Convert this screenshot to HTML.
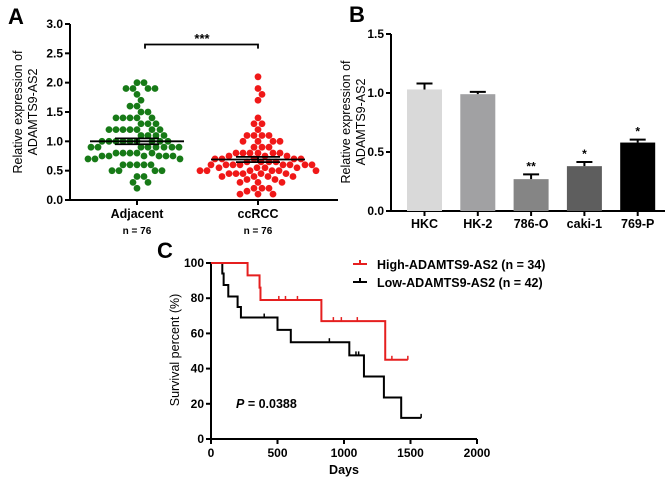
<!DOCTYPE html>
<html><head><meta charset="utf-8">
<style>
html,body{margin:0;padding:0;background:#fff;}
svg{display:block;font-family:"Liberation Sans",Arial,sans-serif;}
.tk{font-size:12px;font-weight:bold;}
</style></head>
<body>
<svg id="fig" width="668" height="479" viewBox="0 0 668 479" xmlns="http://www.w3.org/2000/svg">
<g id="pa"></g>
<g id="pb"></g>
<g id="pc"></g>
</svg>
<script>
// Panel A data
const aTicks = [0, 0.5, 1.0, 1.5, 2.0, 2.5, 3.0];
const aGroups = ["Adjacent", "ccRCC"];
const aN = ["n = 76", "n = 76"];
const adjVals = [2.0,1.9,1.8,1.7,1.6,1.5,1.4,1.3,1.2,1.1,1.0,0.9,0.8,0.75,0.7,0.6,0.5,0.4,0.3,0.2];
const adjCnt  = [2,  4,  1,  1,  2,  2,  5,  3,  7,  4,  9,  8,  5,  6,   3,  5,  4,  2,  2,  1];
const ccVals = [2.1,1.9,1.8,1.7,1.4,1.3,1.2,1.1,1.0,0.9,0.8,0.75,0.7,0.65,0.6,0.55,0.5,0.45,0.4,0.35,0.3,0.2,0.15,0.1];
const ccCnt  = [1,  1,  1,  1,  1,  2,  1,  4,  4,  3,  6,  3,   5,  4,   8,  4,   6,  5,   4,  2,   3,  3,  1,   3];
const aMeans = [1.0, 0.69];
const aSem = [0.05, 0.045];
// Panel B data
const bCats = ["HKC","HK-2","786-O","caki-1","769-P"];
const bVals = [1.03, 0.99, 0.27, 0.38, 0.58];
const bErr = [0.05, 0.02, 0.04, 0.035, 0.025];
const bSig = ["", "", "**", "*", "*"];
const bColors = ["#d9d9d9","#a1a1a3","#858585","#5e5e5e","#000000"];
const bTicks = [0, 0.5, 1.0, 1.5];
// Panel C data
const cXTicks = [0, 500, 1000, 1500, 2000];
const cYTicks = [0, 20, 40, 60, 80, 100];
const hiT = [0, 275, 365, 372, 830, 1310, 1480];
const hiS = [100, 93, 86, 79, 67, 45, 45];
const hiCensT = [510, 560, 650, 920, 980, 1100, 1360, 1480];
const hiCensS = [79, 79, 79, 67, 67, 67, 45, 45];
const loT = [0, 85, 95, 130, 200, 225, 500, 600, 1040, 1150, 1300, 1430, 1580];
const loS = [100, 94, 87.5, 81, 75, 69, 62, 55, 47.5, 35.5, 23.6, 12, 12];
const loCensT = [400, 890, 1090, 1110, 1580];
const loCensS = [69, 55, 47.5, 47.5, 12];

const NS = "http://www.w3.org/2000/svg";
function mk(parent, tag, attrs, text) {
  const e = document.createElementNS(NS, tag);
  for (const k in attrs) e.setAttribute(k, attrs[k]);
  if (text !== undefined) e.textContent = text;
  parent.appendChild(e);
  return e;
}
let e;
// ---------- Panel A ----------
const pa = document.getElementById("pa");
const ay = v => 200 - v * 58.67;
const ax0 = 70, ax1 = 338;
const aCx = [137, 258];
e = mk(pa, "text", {x: 8, y: 24, "font-size": 22, "font-weight": "bold"}, "A");


e = mk(pa, "line", {x1: ax0, y1: ay(3), x2: ax0, y2: 201, stroke: "#000", "stroke-width": 2});


e = mk(pa, "line", {x1: ax0 - 1, y1: 200, x2: ax1, y2: 200, stroke: "#000", "stroke-width": 2});


aTicks.forEach(t => {
  e = mk(pa, "line", {x1: ax0 - 5, y1: ay(t), x2: ax0, y2: ay(t), stroke: "#000", "stroke-width": 2});
  
  
  e = mk(pa, "text", {x: ax0 - 7, y: ay(t) + 4, "text-anchor": "end", class: "tk"}, t.toFixed(1));
  
  
});
e = mk(pa, "text", {transform: "translate(22,112) rotate(-90)", "text-anchor": "middle", "font-size": 12.5}, "Relative expression of");


e = mk(pa, "text", {transform: "translate(37,112) rotate(-90)", "text-anchor": "middle", "font-size": 12.5}, "ADAMTS9-AS2");


aGroups.forEach((g, i) => {
  e = mk(pa, "line", {x1: aCx[i], y1: 200, x2: aCx[i], y2: 205, stroke: "#000", "stroke-width": 2});
  
  
  e = mk(pa, "text", {x: aCx[i], y: 218, "text-anchor": "middle", "font-size": 12.5, "font-weight": "bold"}, g);
  
  
  e = mk(pa, "text", {x: aCx[i], y: 234, "text-anchor": "middle", "font-size": 10, "font-weight": "bold"}, aN[i]);
  
  
});
function swarm(vals, cnt, cx, color, name) {
  const R = 3.4, D = 7.0;
  const placed = [];
  vals.forEach((v, r) => {
    const y = ay(v);
    for (let k = 0; k < cnt[r]; k++) {
      let x = 0;
      for (let s = 0; s < 200; s++) {
        const cand = (s % 2 ? 1 : -1) * Math.ceil(s / 2) * 1.0;
        const ok = placed.every(p => (p[0] - cand) ** 2 + (p[1] - y) ** 2 >= D * D);
        if (ok) { x = cand; break; }
      }
      placed.push([x, y]);
      const d = mk(pa, "circle", {cx: cx + x, cy: y, r: R, fill: color});
      
      
    }
  });
}
swarm(adjVals, adjCnt, aCx[0], "#177a17", "adjacent-dot");
swarm(ccVals, ccCnt, aCx[1], "#f01818", "ccrcc-dot");
aMeans.forEach((m, i) => {
  e = mk(pa, "line", {x1: aCx[i] - 47, y1: ay(m), x2: aCx[i] + 47, y2: ay(m), stroke: "#000", "stroke-width": 1.8});
  
  
  [m - aSem[i], m + aSem[i]].forEach(s => {
    e = mk(pa, "line", {x1: aCx[i] - 22, y1: ay(s), x2: aCx[i] + 22, y2: ay(s), stroke: "#000", "stroke-width": 1.8});
    
    
  });
  e = mk(pa, "line", {x1: aCx[i], y1: ay(m - aSem[i]), x2: aCx[i], y2: ay(m + aSem[i]), stroke: "#000", "stroke-width": 1.8});
  
  
});
e = mk(pa, "path", {d: `M145 ${ay(2.58)} V${ay(2.65)} H258 V${ay(2.58)}`, stroke: "#000", "stroke-width": 1.8, fill: "none"});


e = mk(pa, "text", {x: 202, y: 43, "text-anchor": "middle", "font-size": 13, "font-weight": "bold"}, "***");



// ---------- Panel B ----------
const pb = document.getElementById("pb");
const by = v => 211 - v * 118;
const bx0 = 391;
e = mk(pb, "text", {x: 349, y: 22, "font-size": 22, "font-weight": "bold"}, "B");


e = mk(pb, "line", {x1: bx0, y1: by(1.5), x2: bx0, y2: 212, stroke: "#000", "stroke-width": 2});


e = mk(pb, "line", {x1: bx0 - 1, y1: 211, x2: 665, y2: 211, stroke: "#000", "stroke-width": 2});


bTicks.forEach(t => {
  e = mk(pb, "line", {x1: bx0 - 5, y1: by(t), x2: bx0, y2: by(t), stroke: "#000", "stroke-width": 2});
  
  
  e = mk(pb, "text", {x: bx0 - 7, y: by(t) + 4, "text-anchor": "end", class: "tk"}, t.toFixed(1));
  
  
});
e = mk(pb, "text", {transform: "translate(350,122) rotate(-90)", "text-anchor": "middle", "font-size": 12.5}, "Relative expression of");


e = mk(pb, "text", {transform: "translate(365,122) rotate(-90)", "text-anchor": "middle", "font-size": 12.5}, "ADAMTS9-AS2");


bCats.forEach((c, i) => {
  const cx = 424.5 + i * 53.3;
  e = mk(pb, "rect", {x: cx - 17.5, y: by(bVals[i]), width: 35, height: 211 - by(bVals[i]), fill: bColors[i]});
  
  
  e = mk(pb, "path", {d: `M${cx} ${by(bVals[i])} V${by(bVals[i] + bErr[i])} M${cx - 8} ${by(bVals[i] + bErr[i])} H${cx + 8}`, stroke: "#000", "stroke-width": 2, fill: "none"});
  
  
  if (bSig[i]) {
    e = mk(pb, "text", {x: cx, y: by(bVals[i] + bErr[i]) - 4, "text-anchor": "middle", "font-size": 12, "font-weight": "bold"}, bSig[i]);
    
    
  }
  e = mk(pb, "line", {x1: cx, y1: 211, x2: cx, y2: 216, stroke: "#000", "stroke-width": 2});
  
  
  e = mk(pb, "text", {x: cx, y: 228, "text-anchor": "middle", "font-size": 12.5, "font-weight": "bold"}, c);
  
  
});

// ---------- Panel C ----------
const pc = document.getElementById("pc");
const cx_ = d => 211 + d * 0.133;
const cy_ = s => 439 - s * 1.76;
e = mk(pc, "text", {x: 157, y: 258, "font-size": 22, "font-weight": "bold"}, "C");


e = mk(pc, "line", {x1: 211, y1: cy_(100), x2: 211, y2: 440, stroke: "#000", "stroke-width": 2});


e = mk(pc, "line", {x1: 210, y1: 439, x2: cx_(2000), y2: 439, stroke: "#000", "stroke-width": 2});


cYTicks.forEach(t => {
  e = mk(pc, "line", {x1: 206, y1: cy_(t), x2: 211, y2: cy_(t), stroke: "#000", "stroke-width": 2});
  
  
  e = mk(pc, "text", {x: 204, y: cy_(t) + 4, "text-anchor": "end", class: "tk"}, t);
  
  
});
cXTicks.forEach(t => {
  e = mk(pc, "line", {x1: cx_(t), y1: 439, x2: cx_(t), y2: 444, stroke: "#000", "stroke-width": 2});
  
  
  e = mk(pc, "text", {x: cx_(t), y: 457, "text-anchor": "middle", class: "tk"}, t);
  
  
});
e = mk(pc, "text", {x: 344, y: 474, "text-anchor": "middle", "font-size": 12.5, "font-weight": "bold"}, "Days");


e = mk(pc, "text", {transform: "translate(179,350) rotate(-90)", "text-anchor": "middle", "font-size": 12.5}, "Survival percent (%)");


function km(T, S, color, name) {
  let d = `M${cx_(T[0])} ${cy_(S[0])}`;
  for (let i = 1; i < T.length; i++) d += ` H${cx_(T[i])} V${cy_(S[i])}`;
  const p = mk(pc, "path", {d: d, stroke: color, "stroke-width": 2, fill: "none"});
  
  
}
function cens(T, S, color, name) {
  T.forEach((t, i) => {
    const c = mk(pc, "line", {x1: cx_(t), y1: cy_(S[i]), x2: cx_(t), y2: cy_(S[i]) - 4, stroke: color, "stroke-width": 1.5});
    
    
  });
}
km(loT, loS, "#000", "low-survival-curve");
km(hiT, hiS, "#e51f1f", "high-survival-curve");
cens(loCensT, loCensS, "#000", "low-censor-mark");
cens(hiCensT, hiCensS, "#e51f1f", "high-censor-mark");
e = mk(pc, "path", {d: "M353 264 H367 M360 264 V260", stroke: "#e51f1f", "stroke-width": 2});


e = mk(pc, "text", {x: 377, y: 269, "font-size": 12.5, "font-weight": "bold"}, "High-ADAMTS9-AS2 (n = 34)");


e = mk(pc, "path", {d: "M353 282 H367 M360 282 V278", stroke: "#000", "stroke-width": 2});


e = mk(pc, "text", {x: 377, y: 287, "font-size": 12.5, "font-weight": "bold"}, "Low-ADAMTS9-AS2 (n = 42)");


e = mk(pc, "text", {x: 236, y: 408, "font-size": 12.5, "font-weight": "bold"});


mk(e, "tspan", {"font-style": "italic"}, "P");
mk(e, "tspan", {}, " = 0.0388");
</script>
</body></html>
